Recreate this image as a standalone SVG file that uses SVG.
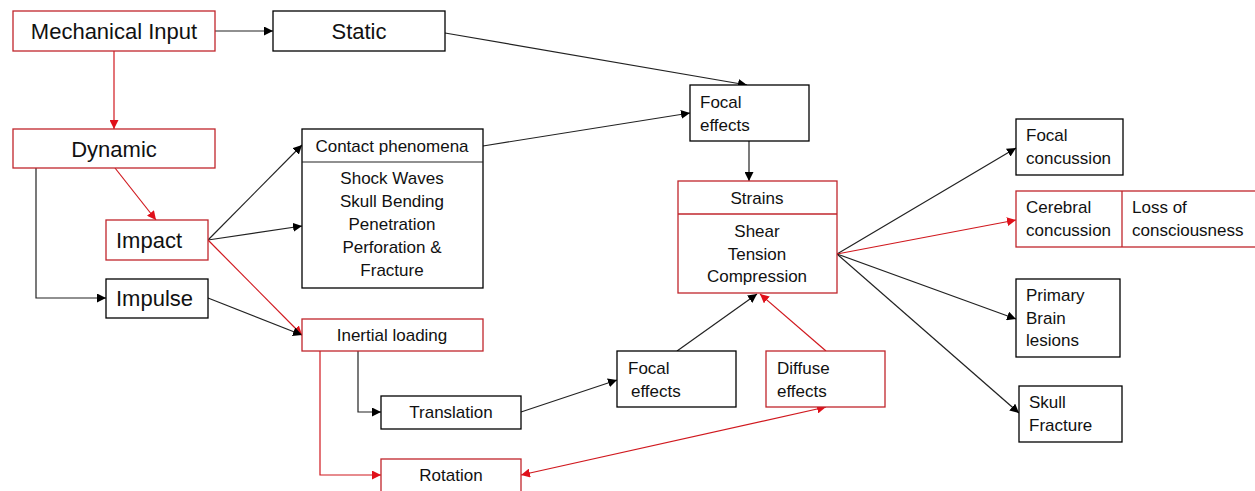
<svg xmlns="http://www.w3.org/2000/svg" width="1255" height="491" viewBox="0 0 1255 491">
<style>
.r{fill:#fff;stroke:#c0262c;stroke-width:1.3}
.b{fill:#fff;stroke:#000;stroke-width:1.3}
text{font-family:"Liberation Sans",Arial,sans-serif;fill:#111}
.L{font-size:22px}
.s{font-size:17px}
.c{text-anchor:middle}
.k{stroke:#222;stroke-width:1.2;fill:none}
.kr{stroke:#d0181e;stroke-width:1.2;fill:none}
</style>
<defs>
<marker id="ab" viewBox="0 0 10 10" refX="10" refY="5" markerWidth="9" markerHeight="9" markerUnits="userSpaceOnUse" orient="auto"><path d="M0,0 L10,5 L0,10 z" fill="#000"/></marker>
<marker id="ar" viewBox="0 0 10 10" refX="10" refY="5" markerWidth="9" markerHeight="9" markerUnits="userSpaceOnUse" orient="auto-start-reverse"><path d="M0,0 L10,5 L0,10 z" fill="#e0101a"/></marker>
</defs>
<rect width="1255" height="491" fill="#fff"/>
<g id="connectors">
<line class="k" x1="215" y1="31" x2="273" y2="31" marker-end="url(#ab)"/>
<line class="kr" x1="114" y1="51" x2="114" y2="129" marker-end="url(#ar)"/>
<line class="kr" x1="115" y1="168" x2="156" y2="220" marker-end="url(#ar)"/>
<polyline class="k" points="36,168 36,298 106,298" marker-end="url(#ab)"/>
<line class="k" x1="208" y1="240" x2="302" y2="145" marker-end="url(#ab)"/>
<line class="k" x1="208" y1="240" x2="302" y2="226" marker-end="url(#ab)"/>
<line class="kr" x1="208" y1="240" x2="302" y2="335" marker-end="url(#ar)"/>
<line class="k" x1="208" y1="298" x2="302" y2="335" marker-end="url(#ab)"/>
<polyline class="k" points="358,351 358,412 381,412" marker-end="url(#ab)"/>
<polyline class="kr" points="320,351 320,475 381,475" marker-end="url(#ar)"/>
<line class="k" x1="521" y1="412" x2="617" y2="380" marker-end="url(#ab)"/>
<line class="kr" x1="521" y1="475" x2="826" y2="407" marker-start="url(#ar)" marker-end="url(#ar)"/>
<line class="k" x1="677" y1="351" x2="757" y2="294" marker-end="url(#ab)"/>
<line class="kr" x1="826" y1="351" x2="760" y2="294" marker-end="url(#ar)"/>
<line class="k" x1="445" y1="33" x2="747" y2="85" marker-end="url(#ab)"/>
<line class="k" x1="483" y1="146" x2="690" y2="113" marker-end="url(#ab)"/>
<line class="k" x1="749" y1="141" x2="749" y2="181" marker-end="url(#ab)"/>
<line class="k" x1="837" y1="254" x2="1016" y2="148" marker-end="url(#ab)"/>
<line class="kr" x1="837" y1="254" x2="1016" y2="220" marker-end="url(#ar)"/>
<line class="k" x1="837" y1="254" x2="1016" y2="319" marker-end="url(#ab)"/>
<line class="k" x1="837" y1="254" x2="1019" y2="413" marker-end="url(#ab)"/>
</g>
<g id="mechanical-input"><rect class="r" x="13" y="11" width="202" height="40"/><text class="L c" x="114" y="39">Mechanical Input</text></g>
<g id="static"><rect class="b" x="273" y="11" width="172" height="40"/><text class="L c" x="359" y="39">Static</text></g>
<g id="dynamic"><rect class="r" x="13" y="129" width="202" height="39"/><text class="L c" x="114" y="157">Dynamic</text></g>
<g id="contact"><rect class="b" x="302" y="129" width="181" height="159"/><line class="k" x1="302" y1="162" x2="483" y2="162"/>
<text class="s c" x="392" y="152">Contact phenomena</text>
<text class="s c" x="392" y="184">Shock Waves</text>
<text class="s c" x="392" y="207">Skull Bending</text>
<text class="s c" x="392" y="230">Penetration</text>
<text class="s c" x="392" y="253">Perforation &amp;</text>
<text class="s c" x="392" y="276">Fracture</text></g>
<g id="impact"><rect class="r" x="106" y="220" width="102" height="40"/><text class="L" x="116" y="248">Impact</text></g>
<g id="impulse"><rect class="b" x="106" y="279" width="102" height="39"/><text class="L" x="116" y="306">Impulse</text></g>
<g id="inertial"><rect class="r" x="302" y="319" width="181" height="32"/><text class="s c" x="392" y="341">Inertial loading</text></g>
<g id="translation"><rect class="b" x="381" y="396" width="140" height="33"/><text class="s c" x="451" y="418">Translation</text></g>
<g id="rotation"><rect class="r" x="381" y="459" width="140" height="33"/><text class="s c" x="451" y="481">Rotation</text></g>
<g id="focal-effects-2"><rect class="b" x="617" y="351" width="119" height="56"/><text class="s" x="628" y="374">Focal</text><text class="s" x="631" y="397">effects</text></g>
<g id="diffuse"><rect class="r" x="766" y="351" width="119" height="56"/><text class="s" x="777" y="374">Diffuse</text><text class="s" x="777" y="397">effects</text></g>
<g id="strains"><rect class="r" x="678" y="181" width="159" height="112"/><line x1="678" y1="214" x2="837" y2="214" style="stroke:#c0262c;stroke-width:1.3"/>
<text class="s c" x="757" y="204">Strains</text>
<text class="s c" x="757" y="237">Shear</text>
<text class="s c" x="757" y="260">Tension</text>
<text class="s c" x="757" y="282">Compression</text></g>
<g id="focal-effects-1"><rect class="b" x="690" y="85" width="119" height="56"/><text class="s" x="700" y="108">Focal</text><text class="s" x="700" y="131">effects</text></g>
<g id="focal-concussion"><rect class="b" x="1016" y="119" width="107" height="56"/><text class="s" x="1026" y="141">Focal</text><text class="s" x="1026" y="164">concussion</text></g>
<g id="cerebral"><rect class="r" x="1016" y="191" width="245" height="56"/><line x1="1122" y1="191" x2="1122" y2="247" style="stroke:#c0262c;stroke-width:1.3"/>
<text class="s" x="1026" y="213">Cerebral</text><text class="s" x="1026" y="236">concussion</text>
<text class="s" x="1132" y="213">Loss of</text><text class="s" x="1132" y="236">consciousness</text></g>
<g id="primary"><rect class="b" x="1016" y="279" width="104" height="78"/><text class="s" x="1026" y="301">Primary</text><text class="s" x="1026" y="324">Brain</text><text class="s" x="1026" y="346">lesions</text></g>
<g id="skull"><rect class="b" x="1019" y="386" width="103" height="56"/><text class="s" x="1029" y="408">Skull</text><text class="s" x="1029" y="431">Fracture</text></g>
</svg>
